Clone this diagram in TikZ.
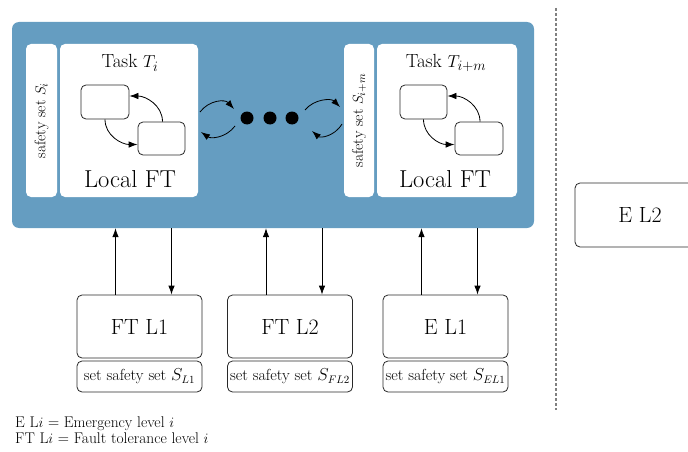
\documentclass[tikz,border=0pt]{standalone}
\usetikzlibrary{arrows.meta}
\newcommand\fsz[1]{\fontsize{#1}{#1}\selectfont}
\definecolor{panelblue}{RGB}{101,157,193}
\definecolor{edgegray}{RGB}{40,40,40}
\begin{document}
\begin{tikzpicture}[x=1pt,y=-1pt,
  panel/.style={fill=panelblue, rounded corners=7pt, inner sep=0pt},
  wbox/.style={fill=white, rounded corners=5pt, inner sep=0pt},
  sbox/.style={draw=edgegray, fill=white, rounded corners=5pt, line width=0.8pt, inner sep=0pt},
  arr/.style={-{Latex[length=9pt,width=6.5pt]}, line width=0.8pt},
  lvl/.style={sbox, minimum width=125pt, minimum height=63pt, font=\fsz{22}},
  sset/.style={sbox, minimum width=125pt, minimum height=31pt, font=\fsz{16}},
]
\clip (0,0) rectangle (688,452);
% main panel
\node[panel, minimum width=522pt, minimum height=206pt] (main) at (273,125) {};
% left group
\node[wbox, minimum width=31pt, minimum height=153pt] (s1) at (41.5,120.5) {};
\node[rotate=90, font=\fsz{15.5}] (s1t) at (s1) {safety set $S_i$};
\node[wbox, minimum width=138pt, minimum height=153pt] (t1) at (129,120.5) {};
\node[font=\fsz{19}] (t1t) at (130,63) {Task $T_i$};
\node[font=\fsz{24.5}] (t1l) at (130,179) {Local FT};
\node[sbox, minimum width=48pt, minimum height=34pt] (a1) at (105,102) {};
\node[sbox, minimum width=47pt, minimum height=33pt] (a2) at (161.5,138.5) {};
\draw[arr] ([xshift=1pt]a2.north) to[out=90,in=0] ([yshift=6pt]a1.east);
\draw[arr] (a1.south) to[out=-90,in=180] ([yshift=-6pt]a2.west);
% right group
\node[wbox, minimum width=30pt, minimum height=153pt] (s2) at (359,120.5) {};
\node[rotate=90, font=\fsz{15.5}] (s2t) at (s2) {safety set $S_{i+m}$};
\node[wbox, minimum width=140pt, minimum height=153pt] (t2) at (447,120.5) {};
\node[font=\fsz{19}] (t2t) at (446,63) {Task $T_{i+m}$};
\node[font=\fsz{24.5}] (t2l) at (445,179) {Local FT};
\node[sbox, minimum width=47pt, minimum height=34pt] (c1) at (423.5,102) {};
\node[sbox, minimum width=48pt, minimum height=33pt] (c2) at (479,138.5) {};
\draw[arr] ([xshift=1pt]c2.north) to[out=90,in=0] ([yshift=6pt]c1.east);
\draw[arr] (c1.south) to[out=-90,in=180] ([yshift=-6pt]c2.west);
% dots
\foreach \x/\n in {247/d1,270/d2,292/d3}
  \fill (\x,118) circle (6.5pt) coordinate (\n);
% side arcs
\coordinate (la) at (200,112); \coordinate (lb) at (234,109);
\coordinate (lc) at (235,126); \coordinate (ld) at (201,132);
\draw[arr] (la) .. controls (209,100) and (225,99) .. (lb);
\draw[arr] (lc) .. controls (226,138) and (211,139) .. (ld);
\coordinate (ra) at (305,110); \coordinate (rb) at (340,107);
\coordinate (rc) at (342,124); \coordinate (rd) at (312,131);
\draw[arr] (ra) .. controls (314,99) and (331,98) .. (rb);
\draw[arr] (rc) .. controls (334,137) and (320,138) .. (rd);
% level boxes
\node[lvl] (f1) at (139.5,326.5) {FT L1};
\node[sset] (f1s) at (139.5,376.5) {set safety set $S_{L1}$};
\node[lvl] (f2) at (290,326.5) {FT L2};
\node[sset] (f2s) at (290,376.5) {set safety set $S_{FL2}$};
\node[lvl] (e1) at (445.5,326.5) {E L1};
\node[sset] (e1s) at (445.5,376.5) {set safety set $S_{EL1}$};
\foreach \b in {f1,f2,e1}{
  \draw[arr] ([xshift=-24pt]\b.north) -- ([xshift=-24pt]\b.north |- main.south);
  \draw[arr] ([xshift=32pt]\b.north |- main.south) -- ([xshift=32pt]\b.north);
}
% separator
\draw[gray, dash pattern=on 3pt off 2pt, line width=1.2pt] (556,8) -- (556,410);
% E L2
\node[sbox, minimum width=130pt, minimum height=64pt, font=\fsz{22}] (e2) at (640,215) {E L2};
% legend
\node[anchor=base west, inner sep=0pt, font=\fsz{15.5}] (lg1) at (15,427) {E L$i$ = Emergency level $i$};
\node[anchor=base west, inner sep=0pt, font=\fsz{15.5}] (lg2) at (15,443) {FT L$i$ = Fault tolerance level $i$};
\end{tikzpicture}
\end{document}
